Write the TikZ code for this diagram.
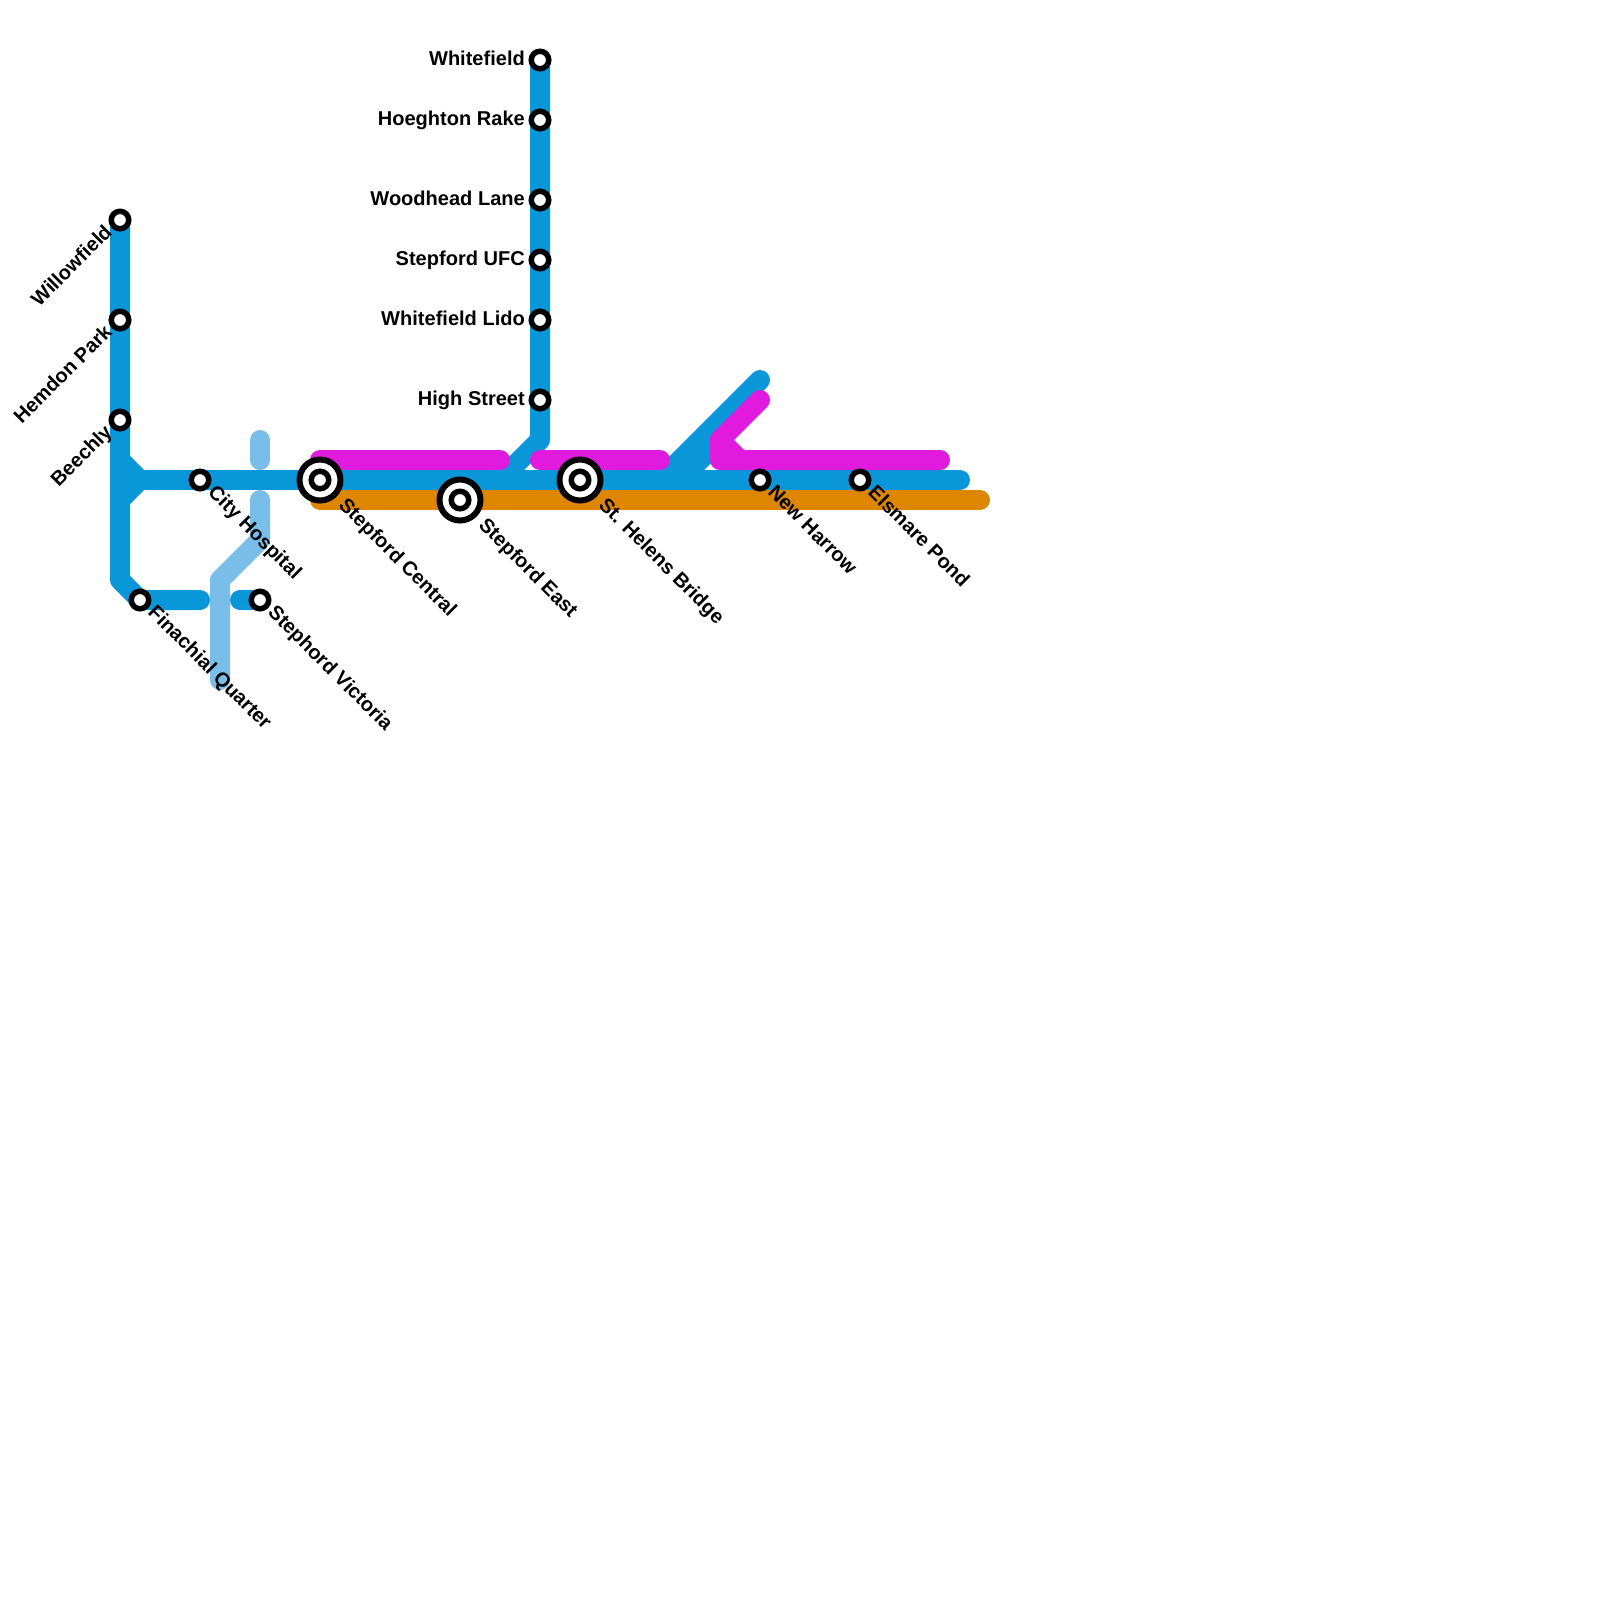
\documentclass[tikz,border=0pt]{standalone}
\usepackage{fontspec}
\setmainfont{Liberation Sans}
\usetikzlibrary{backgrounds}
\definecolor{lineblue}{HTML}{0A97D9}
\definecolor{linesky}{HTML}{79BDE9}
\definecolor{linepink}{HTML}{E01BDE}
\definecolor{lineorange}{HTML}{DF8600}
\tikzset{
  station/.style={circle, draw=black, fill=white, line width=0.055cm, minimum size=0.175cm, inner sep=0pt},
  hub/.style={circle, draw=black, fill=white, line width=0.06cm, minimum size=0.41cm, inner sep=0pt},
  stnlabel/.style={font=\fontsize{5.7pt}{7pt}\selectfont\bfseries, inner sep=0pt, text=black, text height=1.45mm, text depth=0.4mm},
  lowlabel/.style={stnlabel, rotate=-45, anchor=west, label distance=0.036cm, text depth=1.03mm},
  hublabel/.style={lowlabel, label distance=0.1cm, text depth=1.65mm},
  uplabel/.style={stnlabel, rotate=45, anchor=east, label distance=0.03cm, text depth=0.96mm},
  sidelabel/.style={stnlabel, anchor=east, label distance=0.03cm},
  track/.style={line width=0.2cm, line cap=round, line join=round}
}
\begin{document}
\begin{tikzpicture}[x=0.2cm, y=-0.2cm]
    \useasboundingbox (0,0) rectangle (80,80);

    \node[station, label={[uplabel, name=willowfieldText]225:Willowfield}] (willowfield) at (6,11) {};
    \node[station, label={[uplabel, name=hemdonText]225:Hemdon Park}] (hemdon) at (6,16) {};
    \node[station, label={[uplabel, name=beechlyText]225:Beechly}] (beechly) at (6,21) {};
    \node[station, label={[lowlabel, name=cityText]-45:City Hospital}] (city) at (10,24) {};
    \node[station, label={[lowlabel, name=finachialText]-45:Finachial Quarter}] (finachial) at (7,30) {};
    \node[station, label={[lowlabel, name=victoriaText]-45:Stephord Victoria}] (victoria) at (13,30) {};
    \node[station, label={[sidelabel, name=whitefieldText]left:Whitefield}] (whitefield) at (27,3) {};
    \node[station, label={[sidelabel, name=hoeghtonText]left:Hoeghton Rake}] (hoeghton) at (27,6) {};
    \node[station, label={[sidelabel, name=woodheadText]left:Woodhead Lane}] (woodhead) at (27,10) {};
    \node[station, label={[sidelabel, name=ufcText]left:Stepford UFC}] (ufc) at (27,13) {};
    \node[station, label={[sidelabel, name=lidoText]left:Whitefield Lido}] (lido) at (27,16) {};
    \node[station, label={[sidelabel, name=highText]left:High Street}] (high) at (27,20) {};
    \node[station, label={[lowlabel, name=harrowText]-45:New Harrow}] (harrow) at (38,24) {};
    \node[station, label={[lowlabel, name=elsmareText]-45:Elsmare Pond}] (elsmare) at (43,24) {};

    \node[hub, label={[hublabel, name=centralText]-45:Stepford Central}] (central) at (16,24) {};
    \node[station] (centralIn) at (central) {};
    \node[hub, label={[hublabel, name=eastText]-45:Stepford East}] (east) at (23,25) {};
    \node[station] (eastIn) at (east) {};
    \node[hub, label={[hublabel, name=helensText]-45:St. Helens Bridge}] (helens) at (29,24) {};
    \node[station] (helensIn) at (helens) {};

    \coordinate (westBend) at (6,29);
    \coordinate (westUp) at (6,23);
    \coordinate (westDown) at (6,25);
    \coordinate (westJoin) at (7,24);
    \coordinate (westEnd) at (10,30);
    \coordinate (victoriaEnd) at (12,30);
    \coordinate (northBend) at (27,22);
    \coordinate (northFoot) at (25,24);
    \coordinate (blueEnd) at (48,24);
    \coordinate (blueTip) at (38,19);
    \coordinate (blueFoot) at (33,24);
    \coordinate (blueMid) at (36,22);
    \coordinate (blueMidFoot) at (34,24);
    \coordinate (orangeStart) at (16,25);
    \coordinate (orangeEnd) at (49,25);
    \coordinate (pinkStart) at (16,23);
    \coordinate (pinkEnd) at (25,23);
    \coordinate (pinkTwoStart) at (27,23);
    \coordinate (pinkTwoEnd) at (33,23);
    \coordinate (pinkTip) at (38,20);
    \coordinate (pinkBend) at (36,22);
    \coordinate (pinkFoot) at (36,23);
    \coordinate (pinkInner) at (37,23);
    \coordinate (pinkEast) at (47,23);
    \coordinate (skyTop) at (13,22);
    \coordinate (skyTopEnd) at (13,23);
    \coordinate (skyStart) at (13,25);
    \coordinate (skyBend) at (13,27);
    \coordinate (skyLow) at (11,29);
    \coordinate (skyEnd) at (11,34);

    \begin{pgfonlayer}{background}
      \draw[track, linesky] (skyTop) -- (skyTopEnd);
      \draw[track, linesky] (skyStart) -- (skyBend) -- (skyLow) -- (skyEnd);
      \draw[track, lineorange] (orangeStart) -- (orangeEnd);
      \draw[track, lineblue] (willowfield.center) -- (westBend) -- (finachial.center) -- (westEnd);
      \draw[track, lineblue] (victoriaEnd) -- (victoria.center);
      \draw[track, lineblue] (westUp) -- (westJoin) -- (westDown);
      \draw[track, lineblue] (westJoin) -- (blueEnd);
      \draw[track, lineblue] (whitefield.center) -- (northBend) -- (northFoot);
      \draw[track, lineblue] (blueTip) -- (blueFoot);
      \draw[track, lineblue] (blueMid) -- (blueMidFoot);
      \draw[track, linepink] (pinkStart) -- (pinkEnd);
      \draw[track, linepink] (pinkTwoStart) -- (pinkTwoEnd);
      \draw[track, linepink] (pinkTip) -- (pinkBend) -- (pinkFoot) -- (pinkEast);
      \draw[track, linepink] (pinkBend) -- (pinkInner);
    \end{pgfonlayer}

\end{tikzpicture}
\end{document}
